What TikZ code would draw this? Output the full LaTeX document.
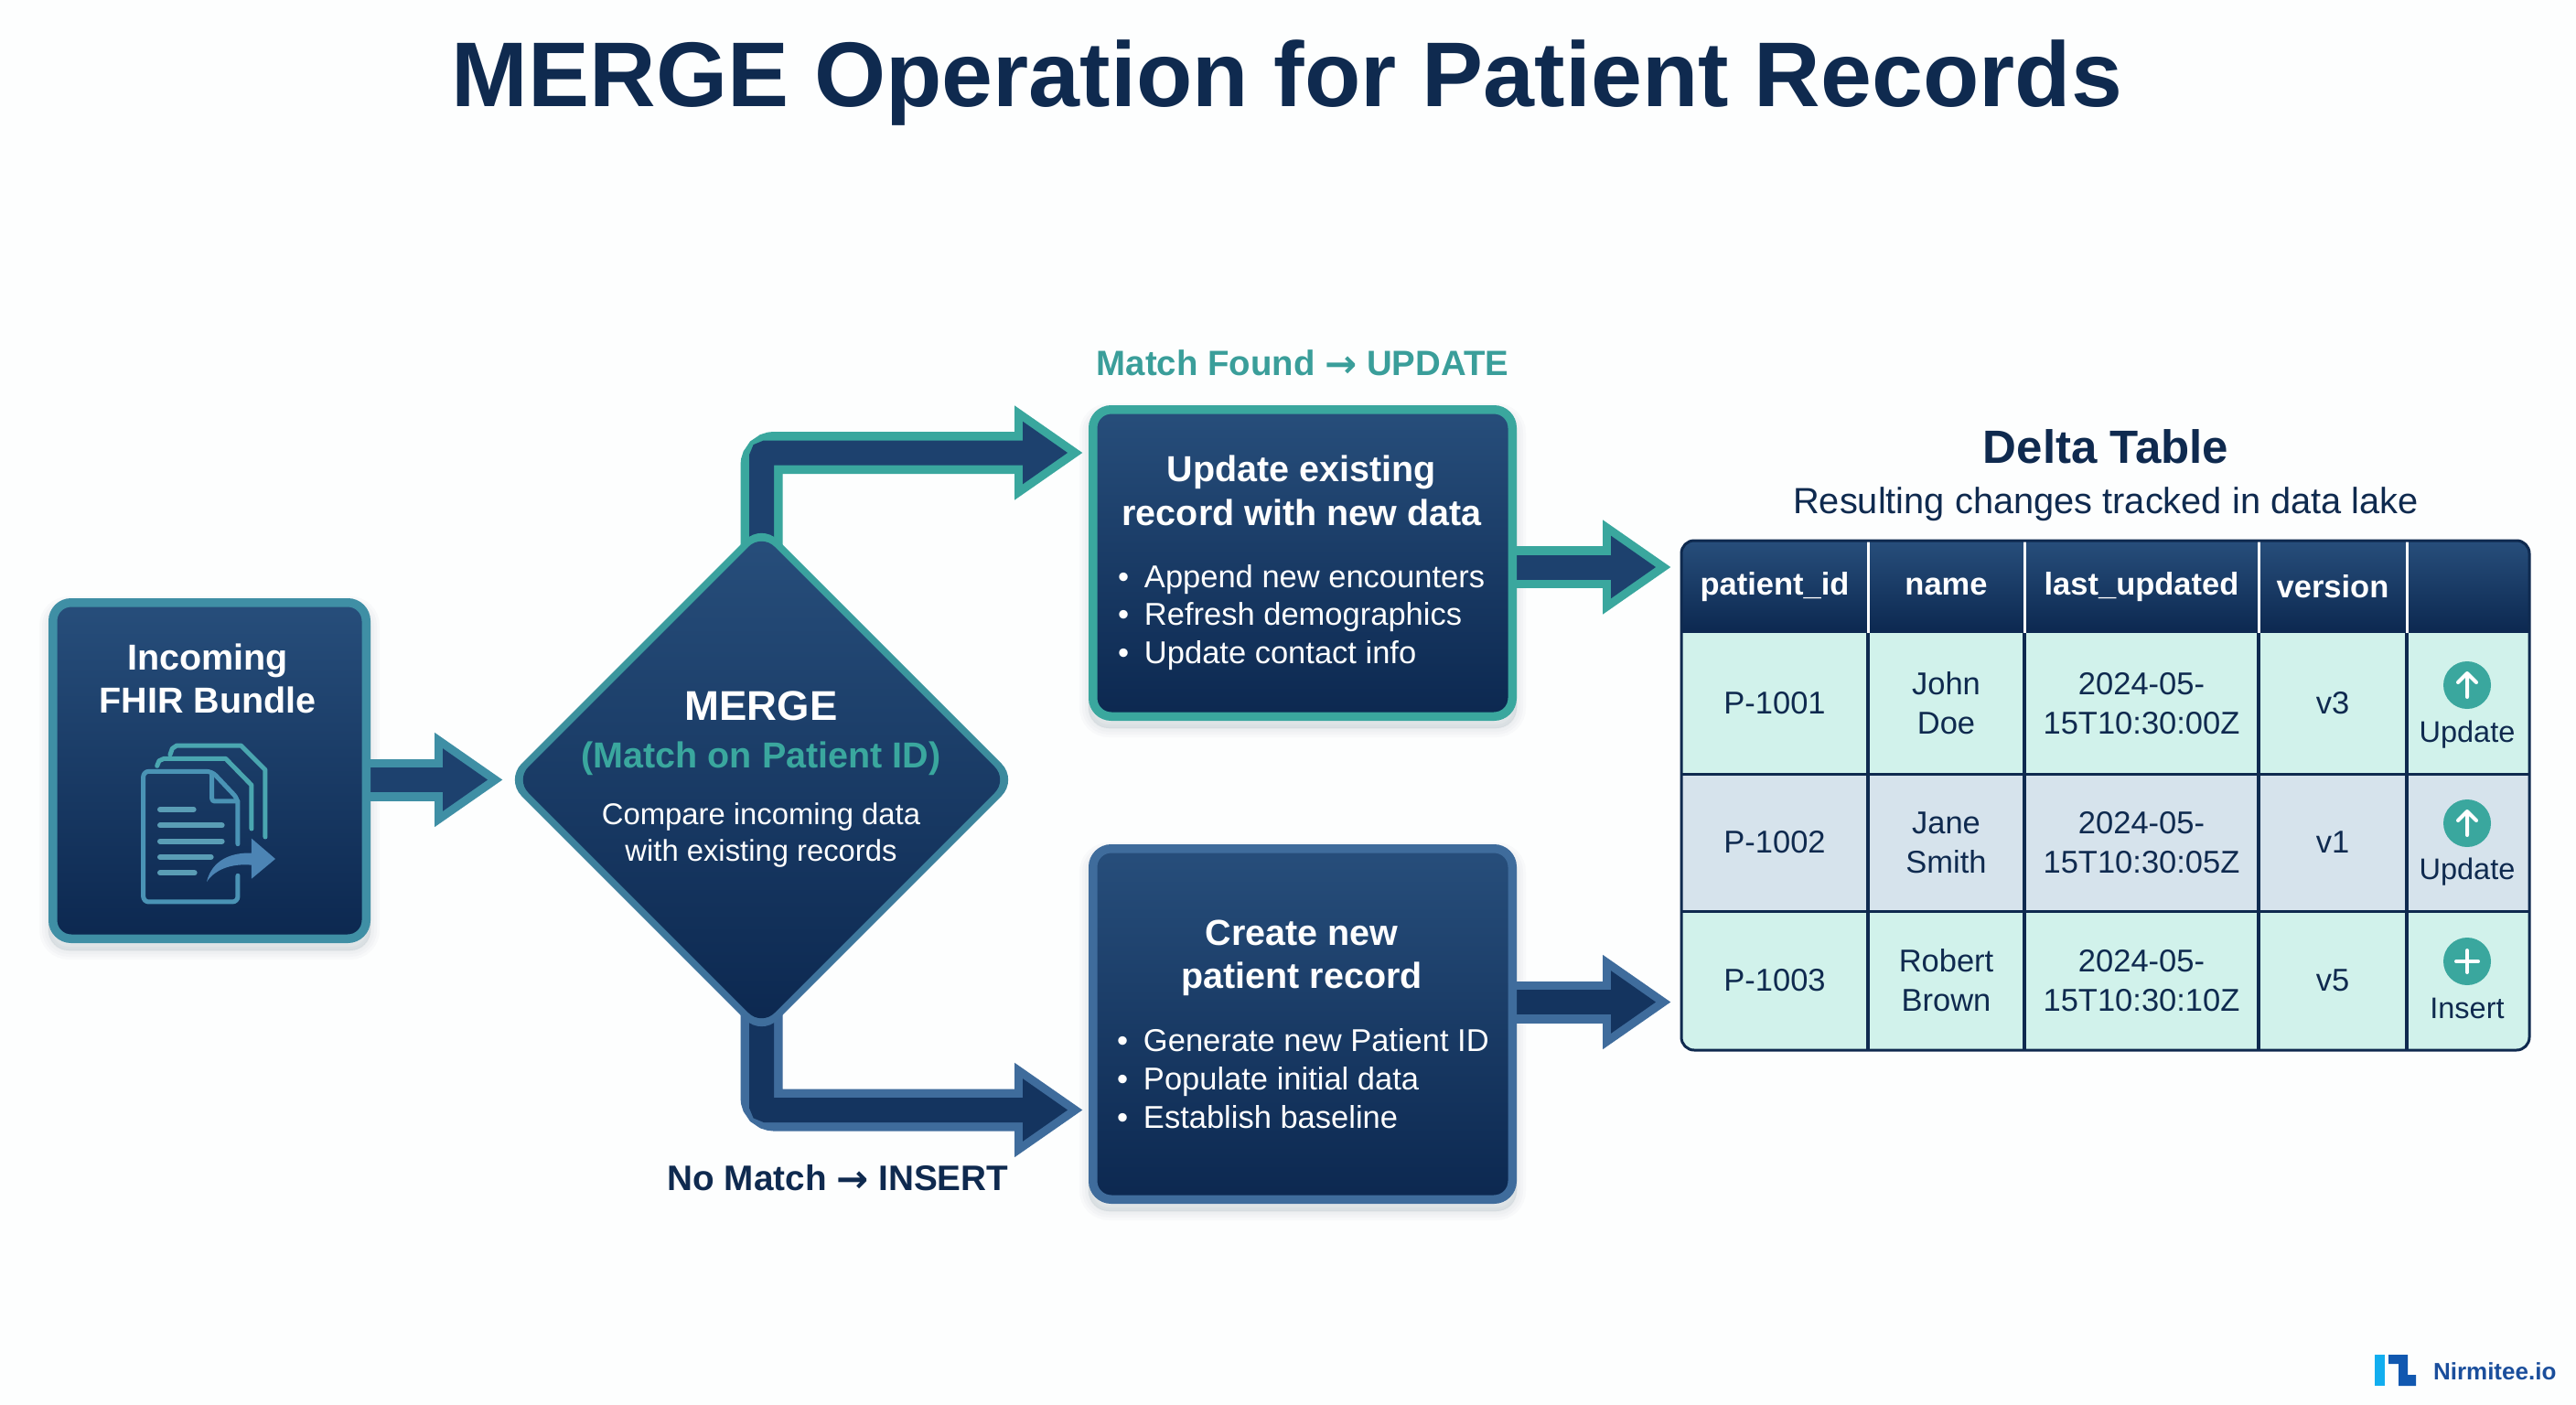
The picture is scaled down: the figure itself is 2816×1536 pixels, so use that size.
\documentclass[tikz,border=0pt]{standalone}
\usepackage{fontspec}
\setmainfont{Liberation Sans}
\newfontfamily\arrowfont{DejaVu Sans}
\usetikzlibrary{arrows.meta,calc,shapes.geometric}
\pgfdeclarelayer{bg}
\pgfsetlayers{bg,main}
\definecolor{pagebg}{HTML}{FDFEFE}
\definecolor{navy}{HTML}{0F2A4F}
\definecolor{boxtop}{HTML}{274E7B}
\definecolor{boxbot}{HTML}{0C2850}
\definecolor{tealb}{HTML}{3AA79E}
\definecolor{tealtxt}{HTML}{3A9E9A}
\definecolor{steel}{HTML}{3F6C9C}
\definecolor{bundleb}{HTML}{3F8FA5}
\definecolor{rowa}{HTML}{D1F2EB}
\definecolor{rowb}{HTML}{D6E3EC}
\definecolor{arrowdark}{HTML}{1D416E}
\definecolor{arrowdeep}{HTML}{14345F}
\definecolor{iconA}{HTML}{4AA6B0}
\definecolor{iconB}{HTML}{4A93B5}
\definecolor{iconC}{HTML}{5A9DB5}
\definecolor{iconD}{HTML}{4C84B4}
\definecolor{logoA}{HTML}{12AEEF}
\definecolor{logoB}{HTML}{1158B0}
\definecolor{logoT}{HTML}{1A4E9C}
\newcommand\tl[6]{\node[inner sep=0pt,outer sep=0pt,text=#1,anchor=center] (#2) at (#3,#4) {\fontsize{#5}{#5}\selectfont\rule{0pt}{.716em}\smash{#6}};}
\newcommand\tll[6]{\node[inner sep=0pt,outer sep=0pt,text=#1,anchor=west] (#2) at (#3,#4) {\fontsize{#5}{#5}\selectfont\rule{0pt}{.716em}\smash{#6}};}
\newcommand\blt[1]{\makebox[29pt][l]{•}#1}
\newcommand\arr{{\arrowfont\bfseries\fontsize{42}{42}\selectfont\raisebox{-1.5pt}{→}}}
\newcommand\cellbox[7]{\node[cellstyle,#6,minimum width={(#3)-(#2)},minimum height={(#5)-(#4)}] (#1) at ({((#2)+(#3))/2},{((#4)+(#5))/2}) {#7};}
\newcommand\softshadow[1]{\foreach \w in {2,8,14,20}{\fill[navy,opacity=.018,rounded corners=22pt,draw=navy,line width=\w pt] ($(#1.north west)+(0,8)$) rectangle ($(#1.south east)+(0,8)$);}}
\tikzset{
  x=1pt,y=-1pt,
  flowbox/.style={rectangle,rounded corners=20pt,line width=9.5pt,top color=boxtop,bottom color=boxbot,inner sep=0pt},
  cellstyle/.style={rectangle,inner sep=0pt,outer sep=0pt,align=center,text=navy,font=\fontsize{34.5}{43}\selectfont},
  headcell/.style={top color=boxtop,bottom color=boxbot,text=white,font=\fontsize{34.5}{34.5}\selectfont\bfseries},
  outerarrow/.style={line width=46pt,rounded corners=14pt,shorten >=#1,-{Triangle[width=98pt,length=75pt]}},
  innerarrow/.style={line width=27pt,rounded corners=5pt,shorten >=#1+16.5pt,-{Triangle[width=65pt,length=49.5pt]}},
  iconline/.style={line width=5pt,line cap=round,line join=round},
  iconrow/.style={line width=6pt,line cap=round,iconC},
  stateicon/.style={circle,fill=tealb,minimum size=52pt,inner sep=0pt},
  iconmark/.style={draw=white,line width=4pt,line cap=round,line join=round},
}
\begin{document}
\begin{tikzpicture}
\useasboundingbox (0,0) rectangle (2816,1536);

% title
\tl{navy}{title}{1407}{81}{100.5}{\bfseries MERGE Operation for Patient Records}

% flow boxes
\node[flowbox,draw=bundleb,minimum width=342.5pt,minimum height=367.5pt] (bundle) at (229,842.5) {};
\node[diamond,aspect=1,inner sep=0pt,outer sep=0pt,rounded corners=25pt,minimum width=560pt,minimum height=560pt,top color=tealb,middle color=tealb!85!steel,bottom color=steel] (merge) at (832.5,852.5) {};
\node[diamond,aspect=1,inner sep=0pt,outer sep=0pt,rounded corners=20pt,minimum width=538pt,minimum height=538pt,top color=boxtop,bottom color=boxbot] (mergein) at (merge.center) {};
\node[flowbox,draw=tealb,minimum width=458.5pt,minimum height=335.5pt] (update) at (1424,615.5) {};
\node[flowbox,draw=steel,minimum width=458.5pt,minimum height=383.5pt] (create) at (1424,1119.5) {};

% table frame
\node[rectangle,inner sep=0pt,outer sep=0pt,minimum width=927pt,minimum height=557pt] (tablebox) at (2301.5,869.5) {};

% connector anchors
\coordinate (updin) at (update.west |- 0,495);
\coordinate (crein) at (create.west |- 0,1213.5);
\coordinate (tabup) at (tablebox.west |- 0,620);
\coordinate (tabcr) at (tablebox.west |- 0,1095.5);

\begin{pgfonlayer}{bg}
  \fill[pagebg] (0,0) rectangle (2816,1536);
  \softshadow{bundle}
  \softshadow{update}
  \softshadow{create}
  % connectors
  \draw[outerarrow=2.5pt,bundleb] (bundle.center |- merge.west) -- (merge.west);
  \draw[innerarrow=2.5pt,arrowdark] (bundle.center |- merge.west) -- (merge.west);
  \draw[outerarrow=6pt,tealb] (merge.center) |- (updin);
  \draw[innerarrow=6pt,arrowdark] (merge.center) |- (updin);
  \draw[outerarrow=6pt,steel] (merge.center) |- (crein);
  \draw[innerarrow=6pt,arrowdeep] (merge.center) |- (crein);
  \draw[outerarrow=11pt,tealb] (update.center |- tabup) -- (tabup);
  \draw[innerarrow=11pt,arrowdark] (update.center |- tabup) -- (tabup);
  \draw[outerarrow=11pt,steel] (create.center |- tabcr) -- (tabcr);
  \draw[innerarrow=11pt,arrowdeep] (create.center |- tabcr) -- (tabcr);
\end{pgfonlayer}

% bundle text and icon
\tl{white}{bundleA}{227}{718}{39.5}{\bfseries Incoming}
\tl{white}{bundleB}{227}{765}{39.5}{\bfseries FHIR Bundle}
\begin{scope}[shift={(120,780)},x=.3333pt,y=-.3333pt]
  \draw[iconline,iconA] (198,135) -- (205,115) -- (220,105) -- (430,105) -- (510,185) -- (510,405);
  \draw[iconline,iconA] (155,172) -- (162,155) -- (178,148) -- (380,148) -- (465,235) -- (465,378);
  \draw[iconline,iconB,rounded corners=6pt] (420,428) -- (420,280) -- (335,190) -- (110,190) -- (110,618) -- (420,618) -- (420,532);
  \draw[iconline,iconB,rounded corners=3pt] (335,195) -- (335,288) -- (420,288);
  \draw[iconrow] (165,315) -- (275,315);
  \draw[iconrow] (165,367) -- (368,367);
  \draw[iconrow] (165,419) -- (368,419);
  \draw[iconrow] (165,471) -- (332,471);
  \draw[iconrow] (165,523) -- (278,523);
  \fill[iconD] (318,552) .. controls (335,480) and (400,455) .. (465,458) -- (465,410) -- (543,477) -- (465,542) -- (465,497) .. controls (410,492) and (350,505) .. (318,552) -- cycle;
\end{scope}

% merge text
\tl{white}{mergeA}{832}{771}{45.5}{\bfseries MERGE}
\tl{tealb}{mergeB}{832}{825}{39.5}{\bfseries (Match on Patient ID)}
\tl{white}{mergeC}{832}{890}{32.8}{Compare incoming data}
\tl{white}{mergeD}{832}{930}{32.8}{with existing records}

% update box text
\tl{tealtxt}{foundlabel}{1424}{397}{38.4}{\bfseries Match Found \arr{} UPDATE}
\tl{white}{updA}{1423}{512}{39.5}{\bfseries Update existing}
\tl{white}{updB}{1423}{560}{39.5}{\bfseries record with new data}
\tll{white}{updC}{1222}{630}{34.5}{\blt{Append new encounters}}
\tll{white}{updD}{1222}{671}{34.5}{\blt{Refresh demographics}}
\tll{white}{updE}{1222}{713}{34.5}{\blt{Update contact info}}

% create box text
\tl{navy}{nolabel}{916}{1288}{38.7}{\bfseries No Match \arr{} INSERT}
\tl{white}{creA}{1423}{1019}{39.5}{\bfseries Create new}
\tl{white}{creB}{1423}{1066}{39.5}{\bfseries patient record}
\tll{white}{creC}{1221}{1137}{34.5}{\blt{Generate new Patient ID}}
\tll{white}{creD}{1221}{1179}{34.5}{\blt{Populate initial data}}
\tll{white}{creE}{1221}{1221}{34.5}{\blt{Establish baseline}}

% table heading
\tl{navy}{deltaA}{2302}{488}{51}{\bfseries Delta Table}
\tl{navy}{deltaB}{2302}{547}{39.8}{Resulting changes tracked in data lake}

% table cells
\begin{scope}
  \clip[rounded corners=14pt] (tablebox.north west) rectangle (tablebox.south east);
  \cellbox{h1}{1838}{2042}{591}{692}{headcell}{\raisebox{-2pt}{patient\_id}}
  \cellbox{h2}{2042}{2213}{591}{692}{headcell}{\raisebox{-2pt}{name}}
  \cellbox{h3}{2213}{2469}{591}{692}{headcell}{\raisebox{-2pt}{last\_updated}}
  \cellbox{h4}{2469}{2631}{591}{692}{headcell}{\raisebox{-2pt}{version}}
  \cellbox{h5}{2631}{2765}{591}{692}{headcell}{}
  \cellbox{a1}{1838}{2042}{692}{846}{fill=rowa}{P-1001}
  \cellbox{a2}{2042}{2213}{692}{846}{fill=rowa}{John\\Doe}
  \cellbox{a3}{2213}{2469}{692}{846}{fill=rowa}{2024-05-\\15T10:30:00Z}
  \cellbox{a4}{2469}{2631}{692}{846}{fill=rowa}{v3}
  \cellbox{a5}{2631}{2765}{692}{846}{fill=rowa}{}
  \cellbox{b1}{1838}{2042}{846}{996}{fill=rowb}{P-1002}
  \cellbox{b2}{2042}{2213}{846}{996}{fill=rowb}{Jane\\Smith}
  \cellbox{b3}{2213}{2469}{846}{996}{fill=rowb}{2024-05-\\15T10:30:05Z}
  \cellbox{b4}{2469}{2631}{846}{996}{fill=rowb}{v1}
  \cellbox{b5}{2631}{2765}{846}{996}{fill=rowb}{}
  \cellbox{c1}{1838}{2042}{996}{1148}{fill=rowa}{P-1003}
  \cellbox{c2}{2042}{2213}{996}{1148}{fill=rowa}{Robert\\Brown}
  \cellbox{c3}{2213}{2469}{996}{1148}{fill=rowa}{2024-05-\\15T10:30:10Z}
  \cellbox{c4}{2469}{2631}{996}{1148}{fill=rowa}{v5}
  \cellbox{c5}{2631}{2765}{996}{1148}{fill=rowa}{}
\end{scope}
% table rules
\foreach \c in {1,2,3,4}{
  \draw[white,line width=3pt] (h\c.north east) -- (h\c.south east);
  \draw[navy,line width=3.5pt] (a\c.north east) -- (c\c.south east);
}
\draw[navy,line width=3pt] (a1.south west) -- (a5.south east);
\draw[navy,line width=3pt] (b1.south west) -- (b5.south east);
\draw[navy,line width=3pt,rounded corners=14pt] (tablebox.north west) rectangle (tablebox.south east);

% status icons
\node[stateicon] (iconA) at (2697,749) {};
\draw[iconmark] (iconA.center) ++(0,13) -- ++(0,-26) ++(-10,10) -- ++(10,-10) -- ++(10,10);
\tl{navy}{actA}{2697}{800}{32.5}{Update}
\node[stateicon] (iconB) at (2697,900) {};
\draw[iconmark] (iconB.center) ++(0,13) -- ++(0,-26) ++(-10,10) -- ++(10,-10) -- ++(10,10);
\tl{navy}{actB}{2697}{950}{32.5}{Update}
\node[stateicon] (iconC) at (2697,1051) {};
\draw[iconmark] (iconC.center) ++(-12,0) -- ++(24,0) ++(-12,-12) -- ++(0,24);
\tl{navy}{actC}{2697}{1102}{32.5}{Insert}

% logo
\fill[logoA] (2596,1481) rectangle (2607,1515);
\fill[logoB] (2611,1481) -- (2632,1481) -- (2632,1503) -- (2641,1503) -- (2641,1515) -- (2622,1515) -- (2622,1491) -- (2611,1491) -- cycle;
\tll{logoT}{logotext}{2660}{1499.5}{26}{\bfseries Nirmitee.io}
\end{tikzpicture}
\end{document}
